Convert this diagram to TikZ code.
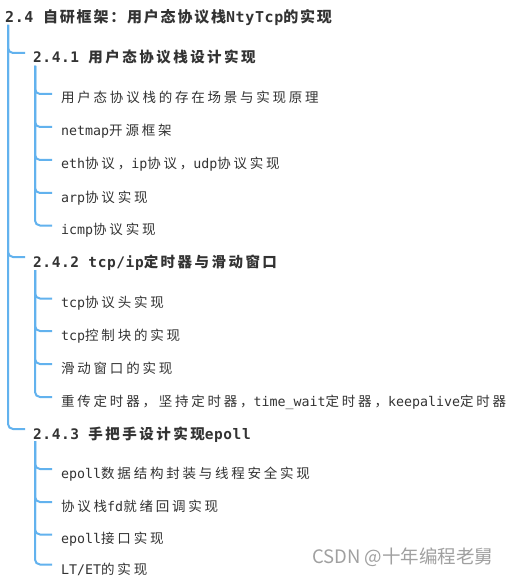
\documentclass[tikz,border=0pt]{standalone}
\usepackage{fontspec}
\setmonofont{DejaVu Sans Mono}
\newfontfamily\latI{DejaVu Sans Mono}
\newfontfamily\latH[LetterSpace=4]{DejaVu Sans Mono}
\newfontfamily\cjI[LetterSpace=20.5]{Noto Sans CJK SC}
\newfontfamily\cjH[LetterSpace=17]{Noto Sans CJK SC}
\newfontfamily\cjR[LetterSpace=12]{Noto Sans CJK SC}
\newfontfamily\wmfont{Noto Sans CJK SC}
\newcommand\zi[1]{{\cjI\fontsize{13.5}{16}\selectfont #1}}
\newcommand\zh[1]{{\cjH\bfseries\fontsize{14.5}{17}\selectfont #1}}
\newcommand\zr[1]{{\cjR\bfseries\fontsize{15}{18}\selectfont #1}}
\definecolor{lineblue}{RGB}{98,178,238}
\definecolor{txt}{RGB}{51,51,51}
\definecolor{wmgray}{RGB}{160,160,160}
\tikzset{
  item/.style={anchor=base west, inner sep=0pt, text=txt, font=\latI\fontsize{13.3}{16}\selectfont},
  head/.style={anchor=base west, inner sep=0pt, text=txt, font=\latH\bfseries\fontsize{14.5}{17}\selectfont},
  rootst/.style={anchor=base west, inner sep=0pt, text=txt, font=\latH\bfseries\fontsize{15}{18}\selectfont},
  link/.style={draw=lineblue, line width=2pt, rounded corners=5pt},
}
\begin{document}
\begin{tikzpicture}[x=1pt,y=-1pt]
\useasboundingbox (0,0) rectangle (515,577);
\fill[white] (0,0) rectangle (515,577);
\clip (0,0) rectangle (515,577);
% nodes
\node[rootst] (root) at (5,23) {2.4 \zr{自研框架：用户态协议栈}NtyTcp\zr{的实现}};
\node[head] (h1) at (33,63) {2.4.1 \zh{用户态协议栈设计实现}};
\node[head] (h2) at (33,267) {2.4.2 tcp/ip\zh{定时器与滑动窗口}};
\node[head] (h3) at (33,439) {2.4.3 \zh{手把手设计实现}epoll};
\node[item] (a1) at (61,103) {\zi{用户态协议栈的存在场景与实现原理}};
\node[item] (a2) at (61,136) {netmap\zi{开源框架}};
\node[item] (a3) at (61,169) {eth\zi{协议，}ip\zi{协议，}udp\zi{协议实现}};
\node[item] (a4) at (61,202) {arp\zi{协议实现}};
\node[item] (a5) at (61,234.5) {icmp\zi{协议实现}};
\node[item] (b1) at (61,307.5) {tcp\zi{协议头实现}};
\node[item] (b2) at (61,340) {tcp\zi{控制块的实现}};
\node[item] (b3) at (61,373) {\zi{滑动窗口的实现}};
\node[item] (b4) at (61,406) {\zi{重传定时器，坚持定时器，}time\_wait\zi{定时器，}keepalive\zi{定时器}};
\node[item] (c1) at (61,478) {epoll\zi{数据结构封装与线程安全实现}};
\node[item] (c2) at (61,511) {\zi{协议栈}fd\zi{就绪回调实现}};
\node[item] (c3) at (61,543.5) {epoll\zi{接口实现}};
\node[item] (c4) at (61,574.5) {LT/ET\zi{的实现}};
\node[anchor=base west, inner sep=0pt, text=wmgray, font=\wmfont\fontsize{18.5}{20}\selectfont] (wm) at (312,563.5) {CSDN @十年编程老舅};
% connector origins
\coordinate (r0) at (8,25);
\coordinate (g1) at (35,66);
\coordinate (g2) at (35,270);
\coordinate (g3) at (35,441);
% connectors
\foreach \n in {h1,h2,h3}
  \draw[link] (r0) |- ([xshift=-8pt,yshift=10pt]\n.base west);
\foreach \n in {a1,a2,a3,a4,a5}
  \draw[link] (g1) |- ([xshift=-9pt,yshift=9pt]\n.base west);
\foreach \n in {b1,b2,b3,b4}
  \draw[link] (g2) |- ([xshift=-9pt,yshift=9pt]\n.base west);
\foreach \n in {c1,c2,c3}
  \draw[link] (g3) |- ([xshift=-9pt,yshift=9pt]\n.base west);
\draw[link] (g3) |- ([xshift=-9pt,yshift=10pt]c4.base west);
\end{tikzpicture}
\end{document}
